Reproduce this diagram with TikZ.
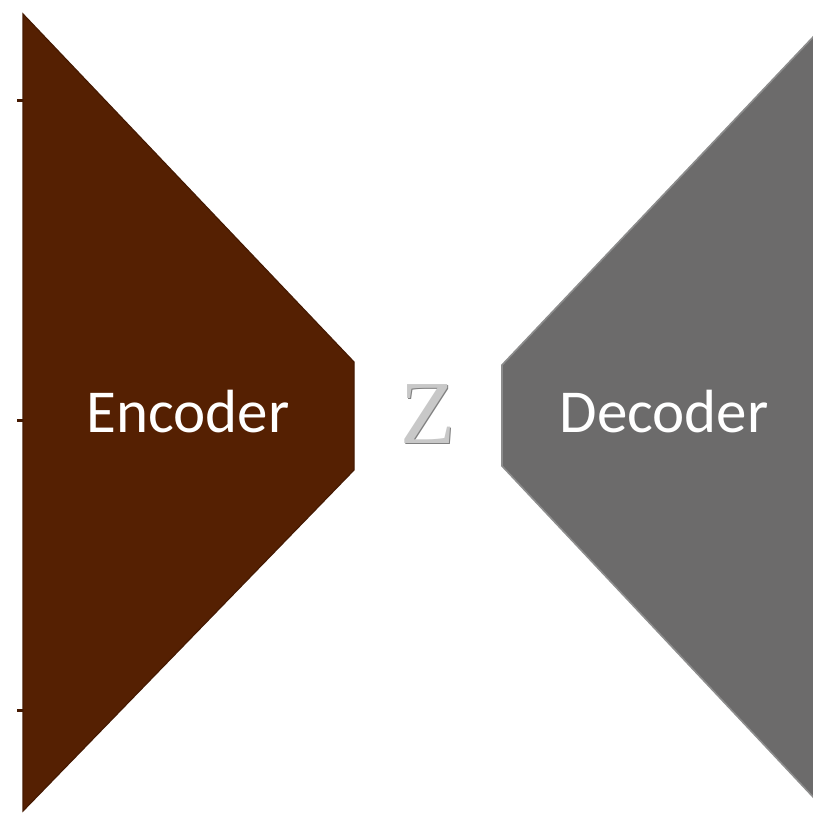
\documentclass[tikz,border=0pt]{standalone}
\usepackage{fontspec}
\setmainfont{Carlito}
\newfontfamily\zfont{Liberation Serif}
\definecolor{encfill}{RGB}{85,32,2}
\definecolor{encline}{RGB}{70,26,2}
\definecolor{decfill}{RGB}{108,107,107}
\definecolor{decline}{RGB}{140,140,140}
\definecolor{zgray}{RGB}{200,200,200}
\begin{document}
\begin{tikzpicture}[x=1pt,y=-1pt,
  encstyle/.style={fill=encfill,draw=encline,line width=1.2pt,line join=miter},
  decstyle/.style={fill=decfill,draw=decline,line width=1.6pt,line join=miter},
  label/.style={text=white,font=\fontsize{61}{61}\selectfont,inner sep=0pt},
  tickmark/.style={draw=encline,line width=3pt}]
\useasboundingbox (0,0) rectangle (813,813);
% encoder trapezoid
\draw[encstyle] (23,14) -- (354,362) -- (354,470) -- (23,811) -- cycle;
% small marks on the encoder's left side
\draw[tickmark] (17,101) -- (23,101);
\draw[tickmark] (17,420) -- (23,420);
\draw[tickmark] (17,710) -- (23,710);
% decoder trapezoid (runs past the right edge)
\draw[decstyle] (815,35) -- (502,365) -- (502,466) -- (815,799) -- cycle;
\node[label] (enc) at (188,412) {Encoder};
\node[label] (dec) at (664,412) {Decoder};
% latent code
\node[inner sep=0pt,text=black!50] (zs) at (429,415.5) {\zfont\fontsize{90}{90}\selectfont Z};
\node[inner sep=0pt,text=zgray] (z) at (427.5,414) {\zfont\fontsize{90}{90}\selectfont Z};
\end{tikzpicture}
\end{document}
